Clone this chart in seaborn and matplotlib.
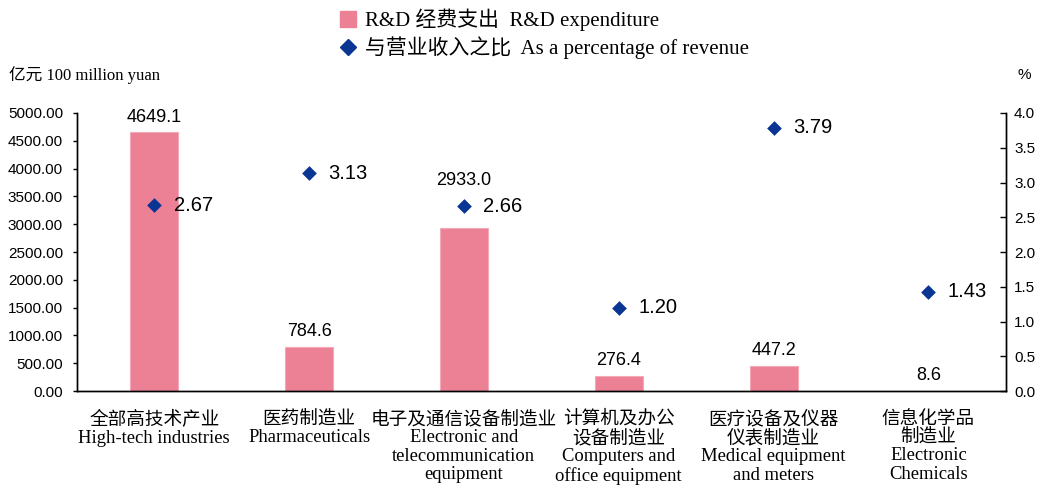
import matplotlib
matplotlib.use("Agg")
import matplotlib.pyplot as plt
import seaborn as sns
import numpy as np
import pandas as pd
from matplotlib.lines import Line2D
from matplotlib.ticker import FormatStrFormatter

# data
categories = [
    "全部高技术产业\nHigh-tech industries",
    "医药制造业\nPharmaceuticals",
    "电子及通信设备制造业\nElectronic and\ntelecommunication\nequipment",
    "计算机及办公\n设备制造业\nComputers and\noffice equipment",
    "医疗设备及仪器\n仪表制造业\nMedical equipment\nand meters",
    "信息化学品\n制造业\nElectronic\nChemicals",
]
rd_expenditure = [4649.1, 784.6, 2933.0, 276.4, 447.2, 8.6]
pct_revenue = [2.67, 3.13, 2.66, 1.20, 3.79, 1.43]

sns.set_style("white")
plt.rcParams['font.family'] = ['Liberation Sans', 'Noto Sans CJK SC']
for k in ("text.color", "axes.labelcolor", "xtick.color", "ytick.color"):
    plt.rcParams[k] = "black"

bar_color = "#EC8095"
dot_color = "#0B3592"
serif = ['Liberation Serif', 'Noto Sans CJK SC']

df = pd.DataFrame({"cat": categories, "rd": rd_expenditure, "pct": pct_revenue})

fig = plt.figure(figsize=(10.39, 4.87), dpi=100)
ax = fig.add_axes([0.074, 0.197, 0.894, 0.571])

sns.barplot(data=df, x="cat", y="rd", ax=ax, color=bar_color, width=0.31,
            edgecolor="#F5A9B8", linewidth=0.8, saturation=1)
# bar value labels (the 2933.0 one sits higher to clear the marker)
for i, v in enumerate(rd_expenditure):
    pad = 28 if i == 2 else 5
    ax.annotate(f"{v:.1f}", (i, v), xytext=(0, pad), textcoords="offset points",
                ha="center", va="bottom", fontsize=13)
ax.set_ylim(0, 5000)
ax.set_yticks(np.arange(0, 5001, 500))
ax.yaxis.set_major_formatter(FormatStrFormatter("%.2f"))
ax.set_xlim(-0.5, 5.5)
ax.set_xlabel("")
ax.set_ylabel("")

ax2 = ax.twinx()
sns.stripplot(data=df, x="cat", y="pct", ax=ax2, jitter=False, marker="D",
              size=7.5, color=dot_color, linewidth=0)
for i, v in enumerate(pct_revenue):
    ax2.annotate(f"{v:.2f}", (i, v), xytext=(14, 0), textcoords="offset points",
                 va="center", ha="left", fontsize=14.5)
ax2.set_ylim(0, 4)
ax2.set_yticks(np.arange(0, 4.01, 0.5))
ax2.yaxis.set_major_formatter(FormatStrFormatter("%.1f"))
ax2.set_xlim(-0.5, 5.5)
ax2.set_ylabel("")
ax2.set_xlabel("")

for a in (ax, ax2):
    a.spines["top"].set_visible(False)
    for s in ("left", "right", "bottom"):
        a.spines[s].set_color("black")
        a.spines[s].set_linewidth(1)
ax.tick_params(axis="y", direction="out", length=3, width=1, labelsize=11, pad=7)
ax2.tick_params(axis="y", direction="in", length=4, width=1, labelsize=11, pad=6)
ax.tick_params(axis="x", length=0, pad=14)
ax.set_xticks(range(len(categories)))
ax.set_xticklabels(categories, fontsize=13.4, family=serif, linespacing=1.1)

fig.text(0.009, 0.845, "亿元 100 million yuan", fontsize=12, family=serif, va="center")
fig.text(0.986, 0.845, "%", fontsize=11, ha="center", va="center")

handles = [
    Line2D([], [], marker="s", linestyle="", markersize=11, color=bar_color),
    Line2D([], [], marker="D", linestyle="", markersize=8, color=dot_color),
]
labels = ["R&D 经费支出  R&D expenditure", "与营业收入之比  As a percentage of revenue"]
fig.legend(handles, labels, loc="upper left", bbox_to_anchor=(0.307, 1.021),
           frameon=False, handlelength=1.0, handletextpad=0.3, labelspacing=0.25,
           prop={"family": serif, "size": 15})

fig.savefig("out.png", dpi=100)
